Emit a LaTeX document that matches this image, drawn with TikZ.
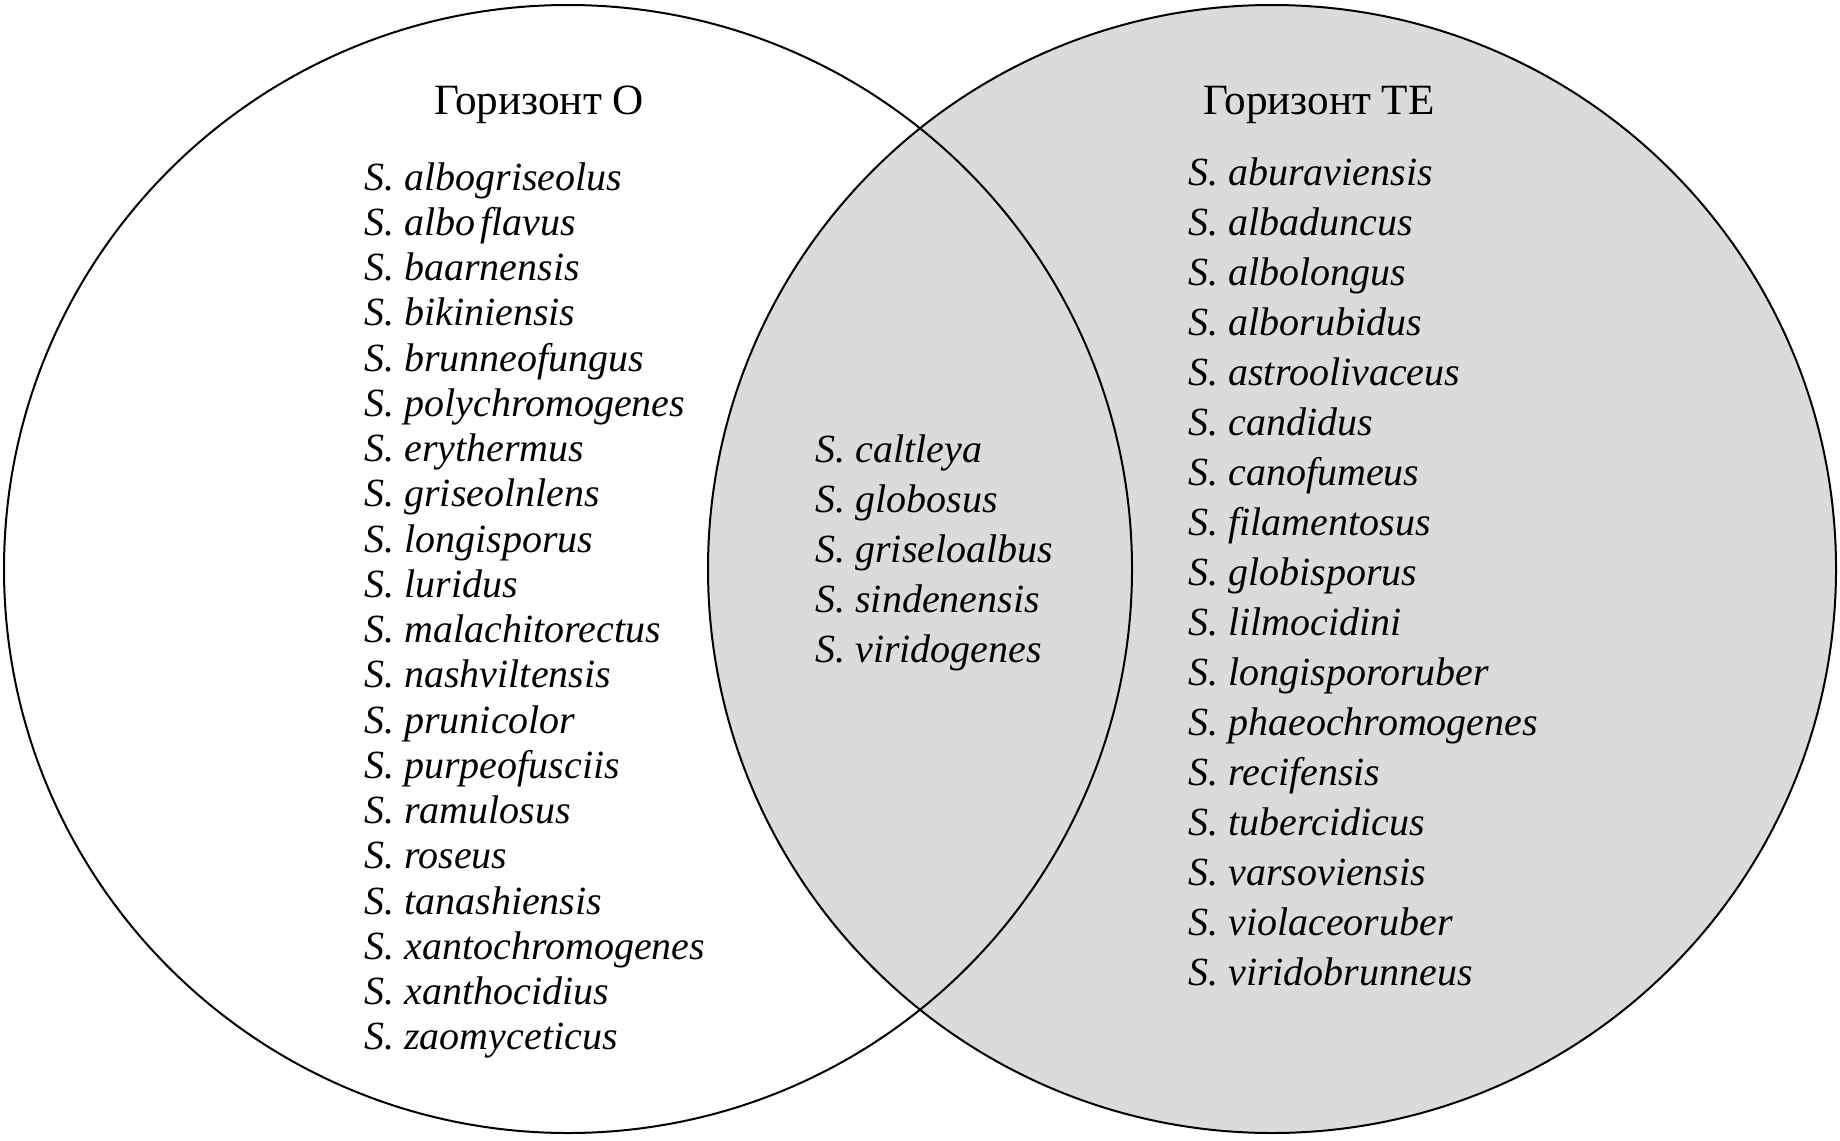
\documentclass[tikz,border=0pt]{standalone}
\usepackage{fontspec}
\setmainfont{Liberation Serif}
\definecolor{overlapgray}{RGB}{218,219,221}

\begin{document}
\begin{tikzpicture}[x=0.5pt,y=-0.5pt,
  horizon/.style={anchor=base,inner sep=0pt,font=\fontsize{21.6}{25}\selectfont},
  species/.style={anchor=base west,inner sep=0pt,font=\fontsize{20}{24}\selectfont\itshape}]
\useasboundingbox (0,0) rectangle (1840,1140);

\fill[overlapgray] (1272,569) circle[radius=564];
\draw[line width=1pt] (568,569) circle[radius=564];
\draw[line width=1pt] (1272,569) circle[radius=564];

\node[horizon] (hO) at (539,114) {Горизонт О};
\node[horizon] (hTE) at (1319,114) {Горизонт ТЕ};

% horizon O only
\foreach \sp [count=\i] in {albogriseolus,albo\hspace{.12em}flavus,baarnensis,bikiniensis,
  brunneofungus,polychromogenes,erythermus,griseolnlens,longisporus,luridus,
  malachitorectus,nashviltensis,prunicolor,purpeofusciis,ramulosus,roseus,
  tanashiensis,xantochromogenes,xanthocidius,zaomyceticus}
  \node[species] (o\i) at (364,{190+45.25*(\i-1)}) {S. \sp};

% both horizons
\foreach \sp [count=\i] in {caltleya,globosus,griseloalbus,sindenensis,viridogenes}
  \node[species] (b\i) at (815,{462+50*(\i-1)}) {S. \sp};

% horizon TE only
\foreach \sp [count=\i] in {aburaviensis,albaduncus,albolongus,alborubidus,
  astroolivaceus,candidus,canofumeus,filamentosus,globisporus,lilmocidini,
  longispororuber,phaeochromogenes,recifensis,tubercidicus,varsoviensis,
  violaceoruber,viridobrunneus}
  \node[species] (t\i) at (1188,{185+50*(\i-1)}) {S. \sp};
\end{tikzpicture}
\end{document}
